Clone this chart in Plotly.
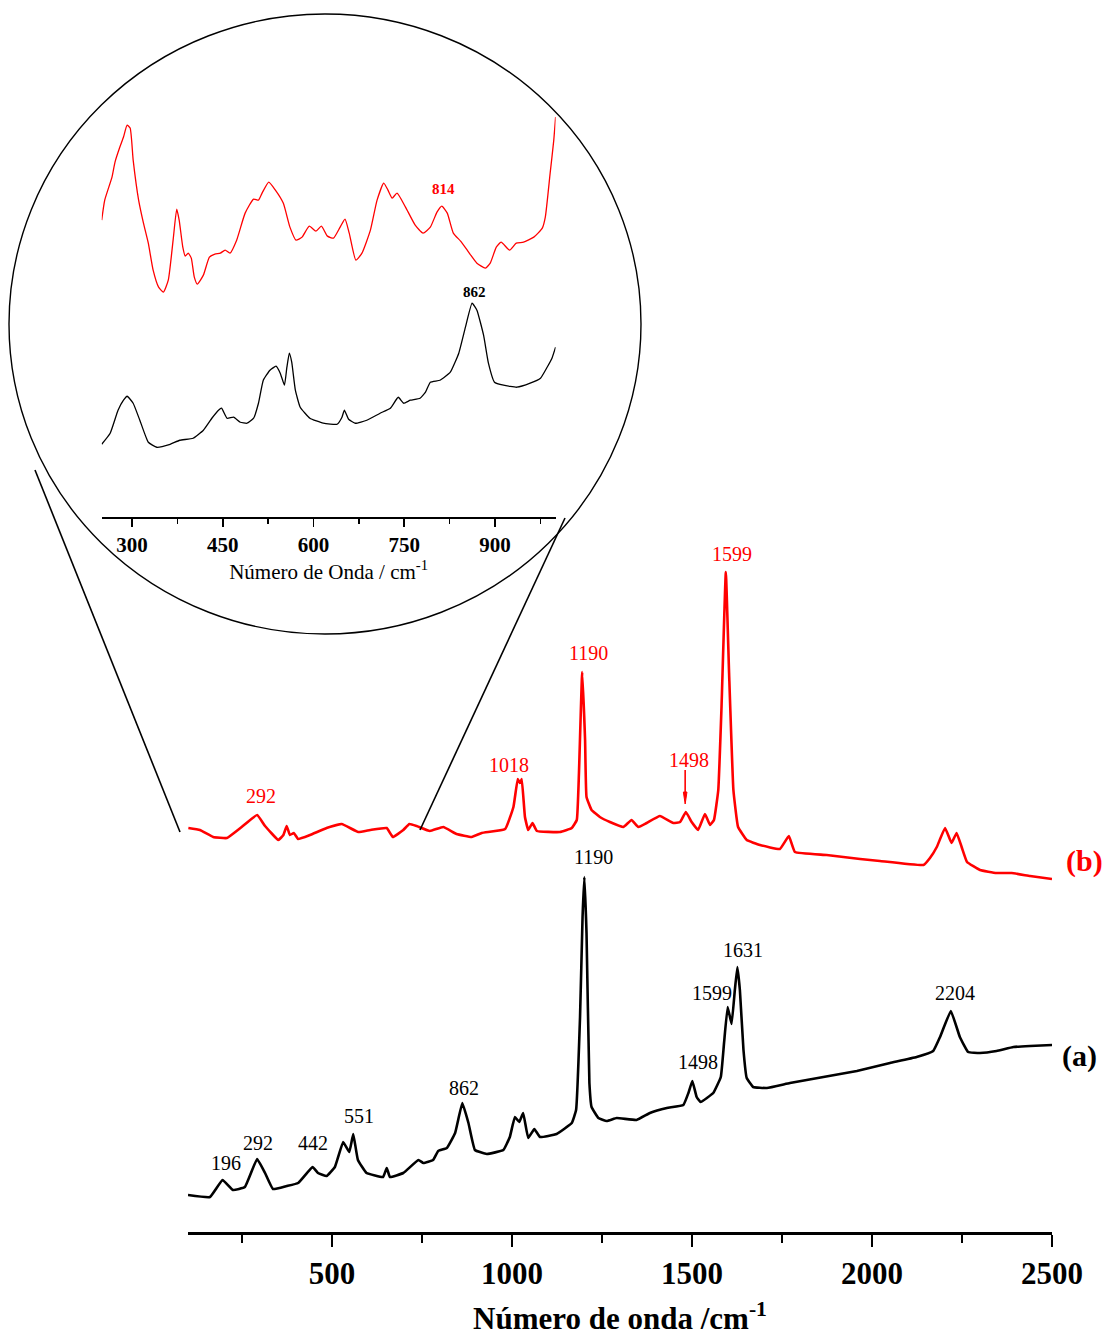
import plotly.graph_objects as go

W, H = 1106, 1336

# ---------------- main spectra (wavenumber, arbitrary intensity) ----------------
a_x = [100, 161, 196, 225, 258, 292, 314, 336, 374, 406, 446, 461, 485, 508, 531, 548, 559, 572,
       596, 642, 652, 661, 698, 740, 754, 781, 795, 819, 842, 862, 879, 897, 930, 976, 994, 1008,
       1020, 1031, 1045, 1062, 1078, 1124, 1166, 1178, 1189, 1196, 1201, 1207, 1215, 1221, 1240,
       1263, 1291, 1346, 1383, 1430, 1476, 1490, 1501, 1513, 1524, 1559, 1580, 1589, 1599, 1610,
       1619, 1626, 1633, 1643, 1652, 1670, 1708, 1772, 1865, 1958, 2050, 2124, 2170, 2189, 2219,
       2244, 2267, 2300, 2346, 2393, 2439, 2500]
a_y = [37, 35, 52, 42, 45, 73, 59, 43, 46, 49, 65, 59, 56, 65, 90, 80, 98, 72,
       59, 55, 64, 55, 59, 72, 69, 72, 81, 84, 99, 129, 109, 82, 78, 82, 95, 115,
       110, 119, 94, 103, 95, 98, 109, 122, 215, 315, 355, 299, 149, 125, 114,
       111, 114, 112, 119, 124, 127, 139, 151, 135, 130, 139, 155, 189, 225, 208,
       242, 265, 242, 182, 154, 145, 144, 149, 155, 161, 169, 175, 181, 195, 221,
       195, 180, 179, 181, 185, 186, 187]

b_x = [101, 133, 170, 208, 249, 292, 314, 351, 365, 374, 383, 394, 406, 439, 485, 527, 573, 606,
       652, 669, 698, 715, 735, 772, 809, 846, 888, 916, 981, 1004, 1016, 1022, 1027, 1036, 1045,
       1057, 1069, 1133, 1166, 1180, 1186, 1195, 1203, 1207, 1221, 1244, 1272, 1309, 1332, 1351,
       1374, 1411, 1448, 1467, 1483, 1499, 1517, 1536, 1550, 1561, 1573, 1582, 1594, 1603, 1615,
       1628, 1652, 1689, 1744, 1769, 1786, 1874, 1967, 2022, 2143, 2161, 2180, 2203, 2221, 2235,
       2249, 2264, 2300, 2346, 2388, 2439, 2500]
b_y = [404, 402, 395, 394, 405, 417, 406, 392, 397, 406, 397, 399, 393, 397, 404, 408, 400, 402,
       404, 395, 402, 408, 406, 401, 405, 398, 395, 399, 403, 425, 453, 449, 453, 415, 402,
       409, 401, 400, 404, 412, 459, 560, 492, 435, 422, 415, 410, 405, 412, 405,
       409, 416, 409, 410, 420, 410, 402, 418, 407, 412, 442, 525, 660, 559, 442,
       405, 392, 387, 383, 396, 380, 377, 373, 371, 367, 374, 385, 404, 389, 399,
       385, 370, 362, 359, 359, 356, 353]

# ---------------- inset spectra (250-1000 cm-1) ----------------
ib_x = [250, 255, 267, 272, 280, 286, 292, 297, 302, 311, 319, 327, 335, 344, 352, 360, 368, 374,
        378, 384, 388, 393, 398, 403, 408, 418, 428, 437, 446, 454, 462, 473, 487, 501, 509, 515,
        526, 537, 550, 561, 571, 581, 593, 604, 613, 623, 633, 644, 652, 659, 670, 680, 694, 705,
        716, 723, 730, 738, 752, 768, 781, 793, 804, 812, 821, 831, 843, 854, 870, 884, 892, 902,
        910, 924, 935, 947, 964, 978, 983, 991, 997, 1000]
ib_y = [297, 317, 340, 355, 370, 380, 392, 389, 357, 317, 294, 274, 247, 230, 225, 237, 277, 308,
        297, 270, 261, 264, 259, 240, 233, 242, 260, 263, 264, 267, 264, 277, 304, 318, 317, 324,
        335, 327, 314, 290, 277, 280, 291, 286, 291, 281, 279, 290, 298, 284, 257, 264, 287, 317,
        334, 327, 319, 324, 310, 292, 284, 290, 305, 311, 304, 284, 276, 267, 254, 249, 254, 270,
        275, 267, 274, 275, 280, 289, 300, 344, 377, 400]

ia_x = [250, 264, 277, 286, 292, 302, 313, 327, 341, 363, 379, 401, 418, 432, 443, 448, 457, 468,
        479, 490, 501, 509, 517, 528, 538, 545, 552, 556, 560, 564, 570, 578, 594, 616, 639, 647,
        651, 658, 669, 688, 710, 727, 740, 749, 760, 776, 785, 793, 809, 826, 840, 851, 862, 870,
        881, 889, 899, 914, 936, 958, 975, 986, 994, 1000]
ia_y = [73, 84, 107, 117, 121, 114, 97, 75, 70, 73, 77, 79, 87, 99, 107, 109, 99, 100,
        95, 94, 99, 114, 137, 147, 151, 144, 132, 150, 164, 155, 127, 110, 99, 94, 93, 100,
        107, 98, 94, 97, 104, 109, 120, 114, 117, 119, 125, 135, 137, 145, 164, 190, 214, 207,
        182, 154, 135, 132, 130, 134, 139, 150, 159, 170]

# ---------------- labels ----------------
a_labels = ["196", "292", "442", "551", "862", "1190", "1498", "1599", "1631", "2204"]
a_lab_x = [205, 294, 448, 576, 867, 1226, 1516, 1555, 1641, 2230]
a_lab_y = [69, 89, 89, 116, 144, 375, 170, 239, 282, 239]

b_labels = ["292", "1018", "1190", "1498", "1599"]
b_lab_x = [303, 993, 1212, 1493, 1612]
b_lab_y = [436, 467, 579, 472, 678]

main_ticks = [500, 1000, 1500, 2000, 2500]
inset_ticks = [300, 450, 600, 750, 900]

RED = "#ff0000"
FONT = "Liberation Serif"


def px_x(p):
    return p / W


def px_y(p):
    return 1 - p / H


fig = go.Figure()

fig.add_trace(go.Scatter(x=a_x, y=a_y, mode="lines",
                         line=dict(color="black", width=2.6, shape="spline", smoothing=0.3),
                         xaxis="x", yaxis="y", showlegend=False, hoverinfo="skip"))
fig.add_trace(go.Scatter(x=b_x, y=b_y, mode="lines",
                         line=dict(color=RED, width=2.6, shape="spline", smoothing=0.3),
                         xaxis="x", yaxis="y", showlegend=False, hoverinfo="skip"))
fig.add_trace(go.Scatter(x=ib_x, y=ib_y, mode="lines",
                         line=dict(color=RED, width=1.3, shape="spline", smoothing=0.5),
                         xaxis="x2", yaxis="y2", showlegend=False, hoverinfo="skip"))
fig.add_trace(go.Scatter(x=ia_x, y=ia_y, mode="lines",
                         line=dict(color="black", width=1.3, shape="spline", smoothing=0.4),
                         xaxis="x2", yaxis="y2", showlegend=False, hoverinfo="skip"))

C = dict(xanchor="center", yanchor="middle", showarrow=False)
annotations = []
for t, x, y in zip(a_labels, a_lab_x, a_lab_y):
    annotations.append(dict(text=t, x=x, y=y, xref="x", yref="y",
                            font=dict(family=FONT, size=20, color="black"), **C))
for t, x, y in zip(b_labels, b_lab_x, b_lab_y):
    annotations.append(dict(text=t, x=x, y=y, xref="x", yref="y",
                            font=dict(family=FONT, size=20, color=RED), **C))
# inset labels
annotations.append(dict(text="<b>814</b>", x=815, y=328, xref="x2", yref="y2",
                        font=dict(family=FONT, size=15, color=RED), **C))
annotations.append(dict(text="<b>862</b>", x=866, y=225, xref="x2", yref="y2",
                        font=dict(family=FONT, size=15, color="black"), **C))
# series tags
annotations.append(dict(text="<b>(a)</b>", x=px_x(1079), y=px_y(1056), xref="paper", yref="paper",
                        font=dict(family=FONT, size=30, color="black"), **C))
annotations.append(dict(text="<b>(b)</b>", x=px_x(1084), y=px_y(861), xref="paper", yref="paper",
                        font=dict(family=FONT, size=30, color=RED), **C))

shapes = [
    dict(type="circle", xref="paper", yref="paper", x0=px_x(9), x1=px_x(641),
         y0=px_y(634), y1=px_y(14), line=dict(color="black", width=1.4)),
    dict(type="line", xref="paper", yref="paper", x0=px_x(35), y0=px_y(470),
         x1=px_x(180), y1=px_y(832), line=dict(color="black", width=1.6)),
    dict(type="line", xref="paper", yref="paper", x0=px_x(565), y0=px_y(518),
         x1=px_x(420), y1=px_y(830), line=dict(color="black", width=1.6)),
    # arrow pointing to red 1498 band
    dict(type="line", xref="x", yref="y", x0=1481, y0=462, x1=1481, y1=436,
         line=dict(color=RED, width=1.6)),
    dict(type="path", xref="x", yref="y", path="M 1476,440 L 1486,440 L 1481,428 Z",
         fillcolor=RED, line=dict(color=RED, width=1)),
]

fig.update_layout(
    width=W, height=H, autosize=False,
    margin=dict(l=0, r=0, t=0, b=0),
    paper_bgcolor="white", plot_bgcolor="rgba(0,0,0,0)",
    showlegend=False,
    annotations=annotations,
    shapes=shapes,
    xaxis=dict(domain=[px_x(188), px_x(1052)], range=[100, 2500], anchor="y",
               showline=True, linecolor="black", linewidth=2.5, mirror=False,
               ticks="outside", ticklen=12, tickwidth=2.5, tickcolor="black",
               tickvals=main_ticks, ticktext=[str(v) for v in main_ticks],
               tickfont=dict(family=FONT, size=31, color="black", weight="bold"),
               minor=dict(dtick=250, tick0=0, ticks="outside", ticklen=8, tickwidth=2,
                          tickcolor="black"),
               showgrid=False, zeroline=False, automargin=False,
               title=dict(text="Número de onda /cm<sup>-1</sup>", standoff=20,
                          font=dict(family=FONT, size=31, color="black", weight="bold"))),
    yaxis=dict(domain=[px_y(1232), px_y(232)], range=[0, 1000], anchor="x", visible=False,
               showgrid=False, zeroline=False),
    xaxis2=dict(domain=[px_x(101.7), px_x(555.6)], range=[250, 1000], anchor="y2",
                showline=True, linecolor="black", linewidth=1.6,
                ticks="outside", ticklen=8, tickwidth=1.6, tickcolor="black",
                tickvals=inset_ticks, ticktext=[str(v) for v in inset_ticks],
                tickfont=dict(family=FONT, size=21, color="black", weight="bold"),
                minor=dict(dtick=75, tick0=0, ticks="outside", ticklen=5, tickwidth=1.4,
                           tickcolor="black"),
                showgrid=False, zeroline=False, automargin=False,
                title=dict(text="Número de Onda / cm<sup>-1</sup>", standoff=4,
                           font=dict(family=FONT, size=21, color="black"))),
    yaxis2=dict(domain=[px_y(517.3), px_y(17)], range=[0, 500], anchor="x2", visible=False,
                showgrid=False, zeroline=False),
)

fig.write_html("out.html", config={"displayModeBar": False, "staticPlot": True},
               post_script="document.body.style.margin='0px';document.body.style.overflow='hidden';")
